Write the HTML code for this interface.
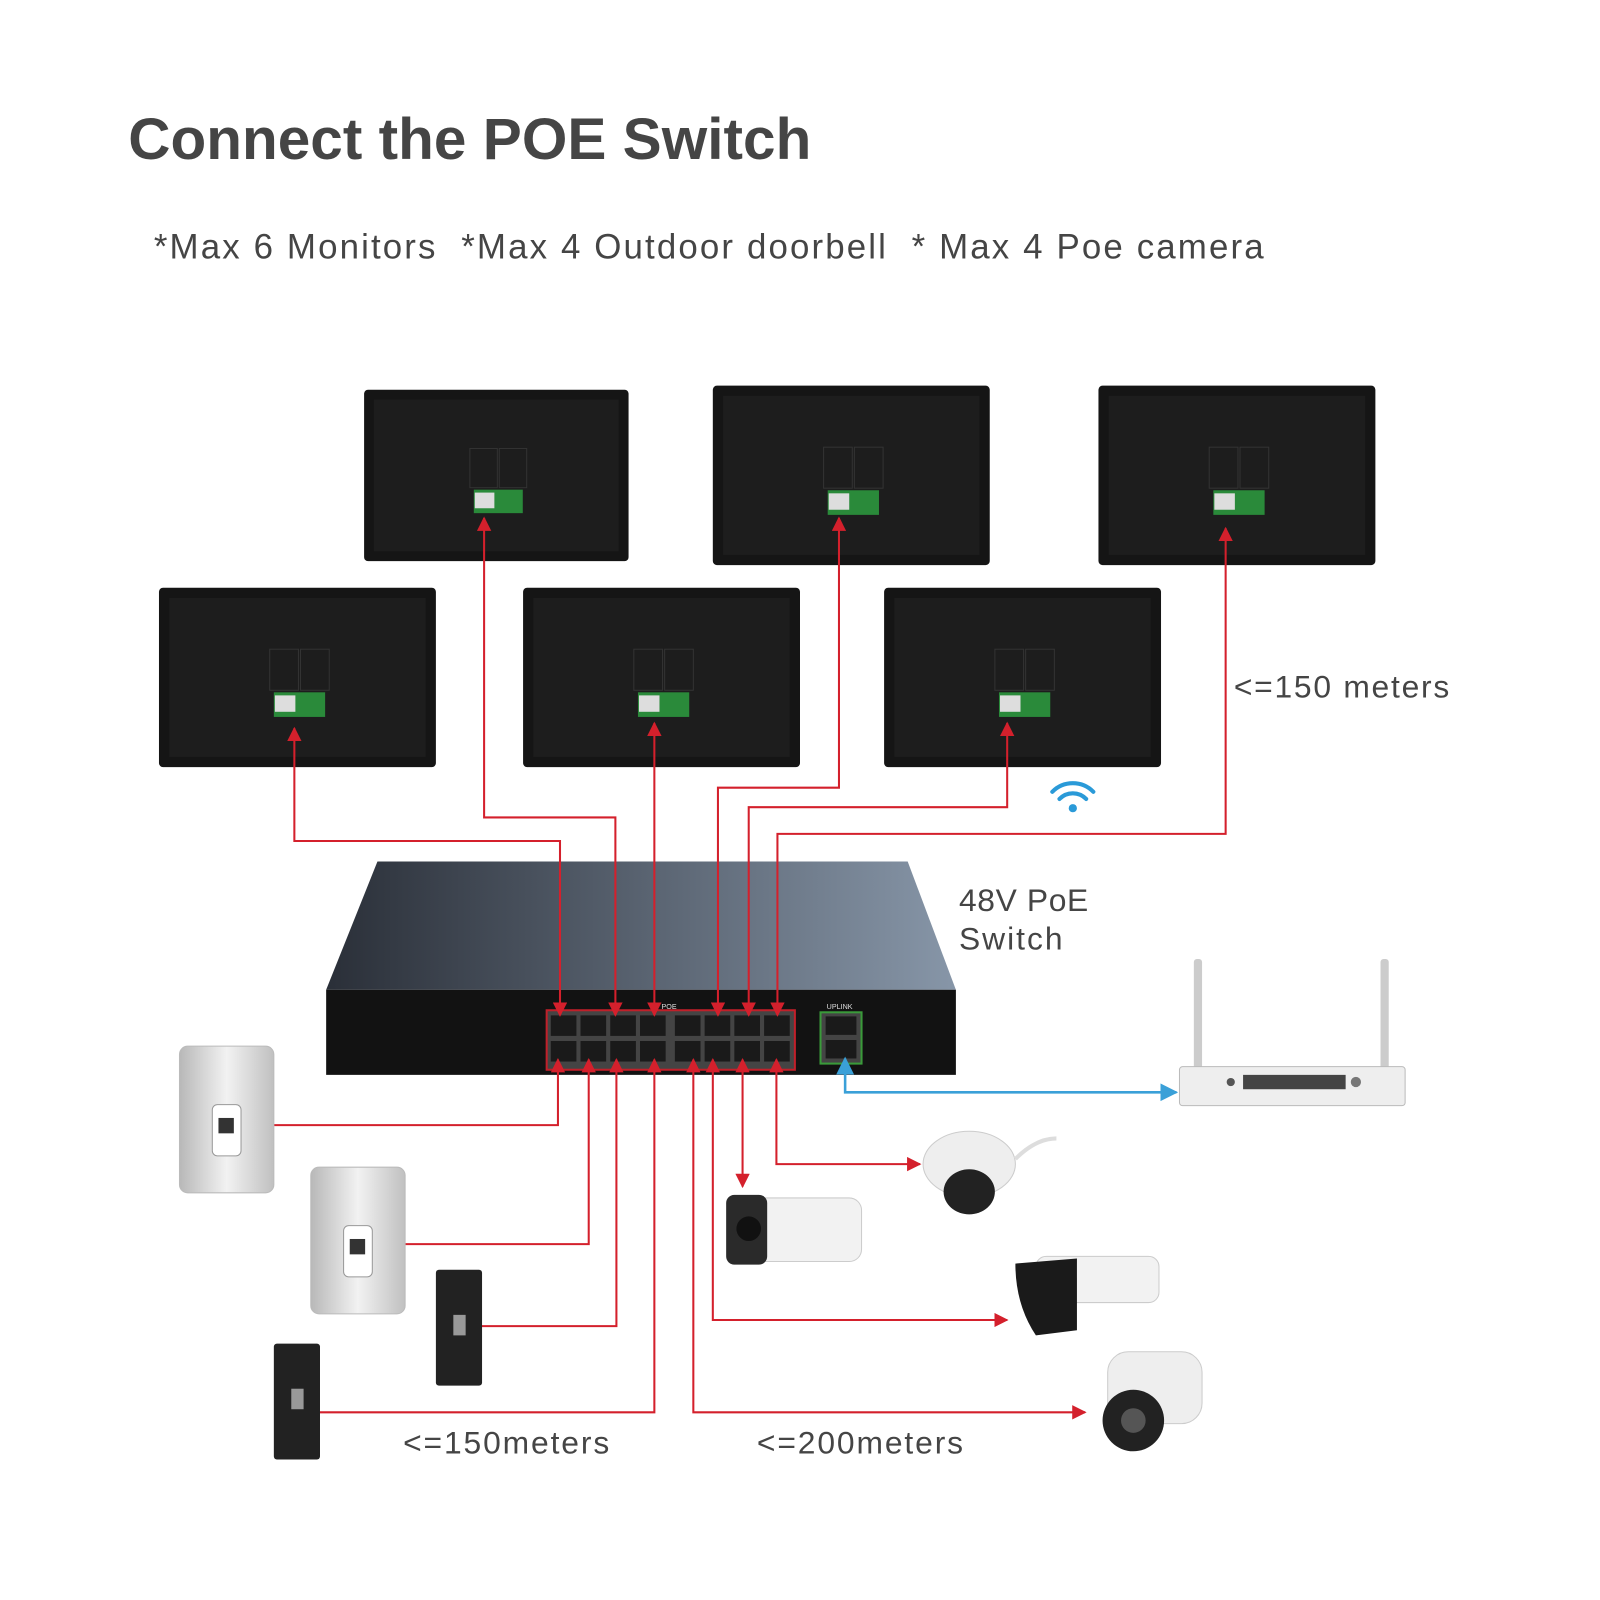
<!DOCTYPE html>
<html><head><meta charset="utf-8"><style>html,body{margin:0;padding:0;background:#fff}svg{display:block}</style></head>
<body>
<svg width="1600" height="1600" viewBox="0 0 1560 1560" xmlns="http://www.w3.org/2000/svg" font-family="Liberation Sans, sans-serif">
<defs>
<marker id="ar" viewBox="0 0 10 10" refX="9" refY="5" markerWidth="7" markerHeight="7" orient="auto-start-reverse"><path d="M0,0L10,5L0,10z" fill="#d4202c"/></marker>
<marker id="ab" viewBox="0 0 10 10" refX="9" refY="5" markerWidth="7" markerHeight="7" orient="auto-start-reverse"><path d="M0,0L10,5L0,10z" fill="#3aa0d8"/></marker>
<linearGradient id="top" x1="0" x2="1"><stop offset="0" stop-color="#2a2f38"/><stop offset="1" stop-color="#8796a8"/></linearGradient>
<linearGradient id="door" x1="0" x2="1"><stop offset="0" stop-color="#b8b8b8"/><stop offset=".5" stop-color="#f2f2f2"/><stop offset="1" stop-color="#c0c0c0"/></linearGradient>
<g id="mon">
<rect x="0" y="0" width="270" height="175" rx="4" fill="#151515"/>
<rect x="10" y="10" width="250" height="155" fill="#1d1d1d"/>
<rect x="108" y="60" width="28" height="40" fill="none" stroke="#333"/><rect x="138" y="60" width="28" height="40" fill="none" stroke="#333"/>
<rect x="112" y="102" width="50" height="24" fill="#2a8a3a"/><rect x="113" y="105" width="20" height="16" fill="#ddd"/>
</g>
</defs>
<text x="125" y="155" font-size="57" font-weight="bold" fill="#454545" textLength="666">Connect the POE Switch</text>
<text x="150" y="252" font-size="34" fill="#454545" textLength="1082">*Max 6 Monitors &#160;*Max 4 Outdoor doorbell &#160;* Max 4 Poe camera</text>

<use href="#mon" transform="translate(355,380) scale(0.955,0.955)"/>
<use href="#mon" transform="translate(695,376)"/>
<use href="#mon" transform="translate(1071,376)"/>
<use href="#mon" transform="translate(155,573)"/>
<use href="#mon" transform="translate(510,573)"/>
<use href="#mon" transform="translate(862,573)"/>

<polygon points="368,840 885,840 932,965 318,965" fill="url(#top)"/>
<rect x="318" y="965" width="614" height="83" fill="#121212"/>
<rect x="533" y="985" width="242" height="58" fill="#444" stroke="#c0202a" stroke-width="2"/>
<g fill="#1a1a1a">
<rect x="537" y="990" width="25" height="20"/><rect x="566" y="990" width="25" height="20"/><rect x="595" y="990" width="25" height="20"/><rect x="624" y="990" width="25" height="20"/><rect x="658" y="990" width="25" height="20"/><rect x="687" y="990" width="25" height="20"/><rect x="716" y="990" width="25" height="20"/><rect x="745" y="990" width="25" height="20"/>
<rect x="537" y="1015" width="25" height="20"/><rect x="566" y="1015" width="25" height="20"/><rect x="595" y="1015" width="25" height="20"/><rect x="624" y="1015" width="25" height="20"/><rect x="658" y="1015" width="25" height="20"/><rect x="687" y="1015" width="25" height="20"/><rect x="716" y="1015" width="25" height="20"/><rect x="745" y="1015" width="25" height="20"/>
</g>
<rect x="800" y="987" width="40" height="50" fill="#444" stroke="#3a9a3a" stroke-width="2"/>
<rect x="805" y="991" width="30" height="18" fill="#1a1a1a"/><rect x="805" y="1014" width="30" height="18" fill="#1a1a1a"/>
<text x="645" y="984" font-size="7" fill="#ddd">POE</text><text x="806" y="984" font-size="7" fill="#ddd">UPLINK</text>

<g fill="none" stroke="#d4202c" stroke-width="2">
<path d="M546,990V820H287V710" marker-start="url(#ar)" marker-end="url(#ar)"/>
<path d="M600,990V797H472V505" marker-start="url(#ar)" marker-end="url(#ar)"/>
<path d="M638,990V705" marker-start="url(#ar)" marker-end="url(#ar)"/>
<path d="M700,990V768H818V505" marker-start="url(#ar)" marker-end="url(#ar)"/>
<path d="M730,990V787H982V705" marker-start="url(#ar)" marker-end="url(#ar)"/>
<path d="M758,990V813H1195V515" marker-start="url(#ar)" marker-end="url(#ar)"/>
<path d="M544,1033V1097H232" marker-start="url(#ar)" marker-end="url(#ar)"/>
<path d="M574,1033V1213H360" marker-start="url(#ar)" marker-end="url(#ar)"/>
<path d="M601,1033V1293H455" marker-start="url(#ar)" marker-end="url(#ar)"/>
<path d="M638,1033V1377H298" marker-start="url(#ar)" marker-end="url(#ar)"/>
<path d="M676,1033V1377H1058" marker-start="url(#ar)" marker-end="url(#ar)"/>
<path d="M695,1033V1287H982" marker-start="url(#ar)" marker-end="url(#ar)"/>
<path d="M724,1033V1157" marker-start="url(#ar)" marker-end="url(#ar)"/>
<path d="M757,1033V1135H897" marker-start="url(#ar)" marker-end="url(#ar)"/>
</g>
<path d="M824,1032V1065H1147" fill="none" stroke="#3aa0d8" stroke-width="2.5" marker-start="url(#ab)" marker-end="url(#ab)"/>

<g fill="none" stroke="#2a9ad8" stroke-width="4" stroke-linecap="round">
<path d="M1026,772a28,28 0 0 1 40,0"/><path d="M1033,779a18,18 0 0 1 26,0"/></g>
<circle cx="1046" cy="788" r="4" fill="#2a9ad8"/>

<rect x="1164" y="935" width="8" height="108" rx="3" fill="#ccc"/><rect x="1346" y="935" width="8" height="108" rx="3" fill="#ccc"/>
<rect x="1150" y="1040" width="220" height="38" rx="3" fill="#eee" stroke="#bbb"/>
<rect x="1212" y="1048" width="100" height="14" fill="#444"/><circle cx="1200" cy="1055" r="4" fill="#555"/><circle cx="1322" cy="1055" r="5" fill="#777"/>

<rect x="175" y="1020" width="92" height="143" rx="8" fill="url(#door)" stroke="#bbb"/>
<rect x="207" y="1077" width="28" height="50" rx="5" fill="#fff" stroke="#999"/><rect x="213" y="1090" width="15" height="15" fill="#333"/>
<rect x="303" y="1138" width="92" height="143" rx="8" fill="url(#door)" stroke="#bbb"/>
<rect x="335" y="1195" width="28" height="50" rx="5" fill="#fff" stroke="#999"/><rect x="341" y="1208" width="15" height="15" fill="#333"/>
<rect x="425" y="1238" width="45" height="113" rx="3" fill="#222"/><rect x="442" y="1282" width="12" height="20" fill="#999"/>
<rect x="267" y="1310" width="45" height="113" rx="3" fill="#222"/><rect x="284" y="1354" width="12" height="20" fill="#999"/>

<ellipse cx="945" cy="1135" rx="45" ry="32" fill="#eee" stroke="#ccc"/><ellipse cx="945" cy="1162" rx="25" ry="22" fill="#222"/>
<path d="M990,1130q20,-20 40,-20" stroke="#ddd" stroke-width="4" fill="none"/>
<rect x="720" y="1168" width="120" height="62" rx="12" fill="#f2f2f2" stroke="#ccc"/><rect x="708" y="1165" width="40" height="68" rx="8" fill="#2a2a2a"/><circle cx="730" cy="1198" r="12" fill="#111"/>
<rect x="1010" y="1225" width="120" height="45" rx="10" fill="#f2f2f2" stroke="#ccc"/><path d="M990,1232l60,-5v70l-40,5q-20,-30 -20,-70z" fill="#1a1a1a"/>
<rect x="1080" y="1318" width="92" height="70" rx="20" fill="#eee" stroke="#ccc"/><circle cx="1105" cy="1385" r="30" fill="#222"/><circle cx="1105" cy="1385" r="12" fill="#555"/>

<g font-size="31" fill="#454545">
<text x="1203" y="680" textLength="210">&lt;=150 meters</text>
<text x="935" y="888" textLength="126">48V PoE</text><text x="935" y="926" textLength="101">Switch</text>
<text x="393" y="1417" textLength="201">&lt;=150meters</text>
<text x="738" y="1417" textLength="201">&lt;=200meters</text>
</g>
</svg>
</body></html>
